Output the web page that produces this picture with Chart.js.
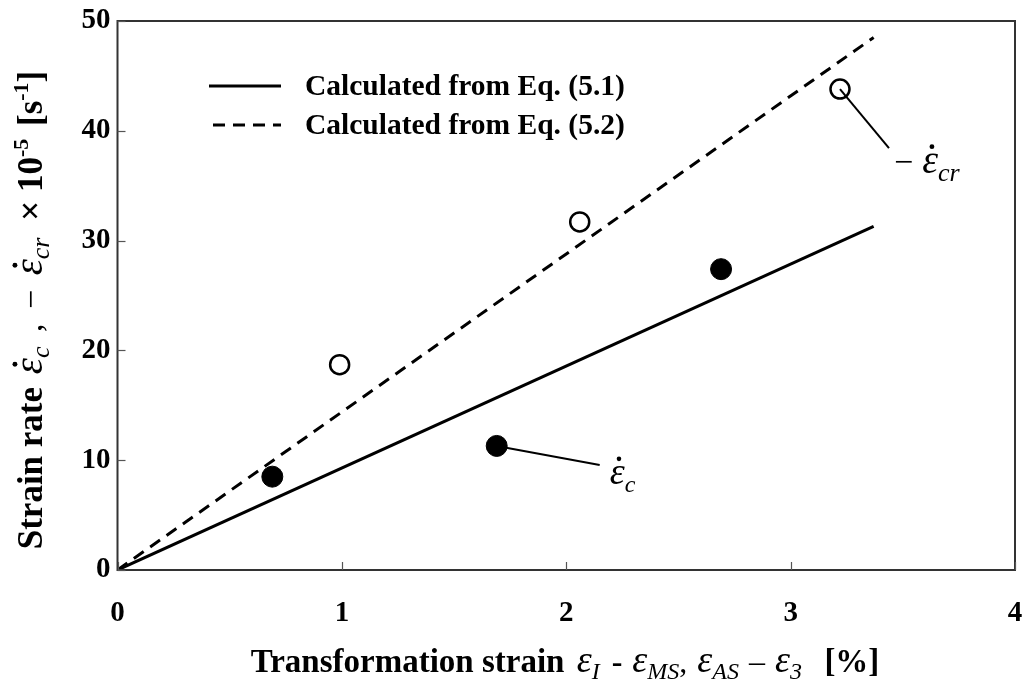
<!DOCTYPE html>
<html>
<head>
<meta charset="utf-8">
<script src="https://cdn.jsdelivr.net/npm/chart.js@4/dist/chart.umd.min.js"></script>
<style>
  html, body { margin: 0; padding: 0; background: #fff; }
  #wrap { width: 1027px; height: 681px; }
</style>
</head>
<body>
<div id="wrap"><canvas id="c" width="1027" height="681"></canvas></div>
<script>
// Measured strain rates (x 10^-5 s^-1) against transformation strain (%)
const strainCreep = [0.69, 1.69, 2.69];
const rateCreep = [8.5, 11.3, 27.4];
const strainRecovery = [0.99, 2.06, 3.22];
const rateRecovery = [18.7, 31.7, 43.8];

// Calculated lines through the origin
const eqStrain = [0, 3.37];
const eq51Rate = [0, 31.3];
const eq52Rate = [0, 48.5];

const xTicks = [0, 1, 2, 3, 4];
const yTicks = [0, 10, 20, 30, 40, 50];

const legendLabels = ['Calculated from Eq. (5.1)', 'Calculated from Eq. (5.2)'];

const SERIF = '"Liberation Serif", "Times New Roman", serif';

function pts(xs, ys) { return xs.map((x, i) => ({ x: x, y: ys[i] })); }

function fontOf(r) {
  return (r.italic ? 'italic ' : '') + (r.bold ? 'bold ' : '') + r.size + 'px ' + SERIF;
}

// Draw a run of mixed-style text pieces in sequence; r.dot puts a time-derivative dot over the glyph
function drawRuns(ctx, runs, x, y, align) {
  let total = 0;
  runs.forEach(r => {
    ctx.font = fontOf(r);
    r.tw = ctx.measureText(r.t).width;
    r.w = r.tw + (r.gap || 0);
    total += r.w;
  });
  let cx = align === 'center' ? x - total / 2 : x;
  ctx.textBaseline = 'alphabetic';
  ctx.textAlign = 'left';
  runs.forEach(r => {
    ctx.font = fontOf(r);
    const by = y + (r.dy || 0);
    ctx.fillText(r.t, cx, by);
    if (r.dot) {
      ctx.beginPath();
      ctx.arc(cx + r.tw * 0.62, by - r.size * 0.66, Math.max(1.6, r.size * 0.06), 0, Math.PI * 2);
      ctx.fill();
    }
    cx += r.w;
  });
}

const framePlugin = {
  id: 'frame',
  afterDraw(chart) {
    const ctx = chart.ctx;
    const a = chart.chartArea;
    const xs = chart.scales.x, ys = chart.scales.y;
    ctx.save();
    // plot frame
    ctx.strokeStyle = '#333';
    ctx.lineWidth = 2;
    ctx.strokeRect(a.left, a.top, a.right - a.left, a.bottom - a.top);
    // inward tick marks
    ctx.lineWidth = 1.2;
    ctx.strokeStyle = '#555';
    yTicks.forEach(v => {
      const py = Math.round(ys.getPixelForValue(v)) + 0.5;
      ctx.beginPath(); ctx.moveTo(a.left, py); ctx.lineTo(a.left + 8, py); ctx.stroke();
    });
    xTicks.forEach(v => {
      const px = Math.round(xs.getPixelForValue(v)) + 0.5;
      ctx.beginPath(); ctx.moveTo(px, a.bottom); ctx.lineTo(px, a.bottom - 8); ctx.stroke();
    });

    ctx.fillStyle = '#000';
    ctx.strokeStyle = '#000';

    // legend
    const lx0 = 209, lx1 = 281;
    const ly = [86, 125];
    ctx.lineWidth = 3;
    ctx.beginPath(); ctx.setLineDash([]); ctx.moveTo(lx0, ly[0]); ctx.lineTo(lx1, ly[0]); ctx.stroke();
    ctx.beginPath(); ctx.setLineDash([12, 8]); ctx.moveTo(lx0 + 4, ly[1]); ctx.lineTo(lx1, ly[1]); ctx.stroke();
    ctx.setLineDash([]);
    ctx.font = 'bold 29.5px ' + SERIF;
    ctx.textBaseline = 'middle';
    ctx.textAlign = 'left';
    legendLabels.forEach((t, i) => ctx.fillText(t, 305, ly[i] + 1));

    // leader lines to the data labels
    ctx.lineWidth = 2;
    const c0x = xs.getPixelForValue(strainCreep[1]), c0y = ys.getPixelForValue(rateCreep[1]);
    ctx.beginPath(); ctx.moveTo(c0x, c0y); ctx.lineTo(c0x + 103, c0y + 19); ctx.stroke();
    drawRuns(ctx, [
      { t: 'ε', size: 38, italic: true, dot: true },
      { t: 'c', size: 24, italic: true, dy: 8 }
    ], c0x + 113, c0y + 38, 'left');

    const r0x = xs.getPixelForValue(strainRecovery[2]), r0y = ys.getPixelForValue(rateRecovery[2]);
    ctx.beginPath(); ctx.moveTo(r0x, r0y); ctx.lineTo(r0x + 49, r0y + 59); ctx.stroke();
    drawRuns(ctx, [
      { t: '\u2212', size: 34, gap: 9 },
      { t: 'ε', size: 40, italic: true, dot: true },
      { t: 'cr', size: 26, italic: true, dy: 8 }
    ], r0x + 54, r0y + 84, 'left');

    // x axis title
    ctx.fillStyle = '#000';
    drawRuns(ctx, [
      { t: 'Transformation strain ', size: 33, bold: true, gap: 4 },
      { t: 'ε', size: 38, italic: true },
      { t: 'I', size: 24, italic: true, dy: 7, gap: 4 },
      { t: ' - ', size: 32, bold: true, gap: 2 },
      { t: 'ε', size: 38, italic: true },
      { t: 'MS', size: 24, italic: true, dy: 7 },
      { t: ', ', size: 32, gap: 2 },
      { t: 'ε', size: 38, italic: true },
      { t: 'AS', size: 24, italic: true, dy: 7, gap: 2 },
      { t: ' \u2013 ', size: 32, gap: 2 },
      { t: 'ε', size: 38, italic: true },
      { t: '3', size: 24, italic: true, dy: 7, gap: 6 },
      { t: '  [%]', size: 33, bold: true }
    ], 565, 672, 'center');

    // y axis title (rotated)
    ctx.save();
    ctx.translate(42, 310);
    ctx.rotate(-Math.PI / 2);
    drawRuns(ctx, [
      { t: 'Strain rate ', size: 35, bold: true, gap: 4 },
      { t: 'ε', size: 41, italic: true, dot: true },
      { t: 'c', size: 26, italic: true, dy: 7, gap: 6 },
      { t: ' , ', size: 34, gap: 6 },
      { t: '\u2212 ', size: 34, gap: 6 },
      { t: 'ε', size: 41, italic: true, dot: true },
      { t: 'cr', size: 26, italic: true, dy: 7, gap: 8 },
      { t: ' \u00d7 10', size: 35, bold: true },
      { t: '-5', size: 22, bold: true, dy: -14, gap: 4 },
      { t: ' [s', size: 35, bold: true },
      { t: '-1', size: 22, bold: true, dy: -14 },
      { t: ']', size: 35, bold: true }
    ], 0, 0, 'center');
    ctx.restore();

    ctx.restore();
  }
};

new Chart(document.getElementById('c'), {
  type: 'scatter',
  data: {
    datasets: [
      {
        label: legendLabels[0],
        data: pts(eqStrain, eq51Rate),
        showLine: true,
        borderColor: '#000',
        borderWidth: 3,
        pointRadius: 0,
        fill: false
      },
      {
        label: legendLabels[1],
        data: pts(eqStrain, eq52Rate),
        showLine: true,
        borderColor: '#000',
        borderWidth: 3,
        borderDash: [12, 8],
        pointRadius: 0,
        fill: false
      },
      {
        label: 'creep',
        data: pts(strainCreep, rateCreep),
        pointRadius: 10.5,
        pointBackgroundColor: '#000',
        pointBorderColor: '#000',
        pointBorderWidth: 1
      },
      {
        label: 'recovery',
        data: pts(strainRecovery, rateRecovery),
        pointRadius: 9.5,
        pointBackgroundColor: '#fff',
        pointBorderColor: '#000',
        pointBorderWidth: 2.5
      }
    ]
  },
  options: {
    responsive: false,
    animation: false,
    devicePixelRatio: 1,
    layout: { padding: { left: 0, top: 21, right: 12, bottom: 0 } },
    plugins: { legend: { display: false }, tooltip: { enabled: false } },
    scales: {
      x: {
        type: 'linear',
        min: 0, max: 4,
        afterBuildTicks(s) { s.ticks = xTicks.map(v => ({ value: v })); },
        afterFit(s) { s.height = 111; s.paddingLeft = 0; s.paddingRight = 0; },
        grid: { display: false, drawTicks: false },
        border: { display: false },
        ticks: {
          color: '#000',
          padding: 26,
          font: { family: SERIF, size: 29, weight: 'bold' }
        }
      },
      y: {
        type: 'linear',
        min: 0, max: 50,
        afterBuildTicks(s) { s.ticks = yTicks.map(v => ({ value: v })); },
        afterFit(s) { s.width = 117.5; s.paddingTop = 0; s.paddingBottom = 0; },
        grid: { display: false, drawTicks: false },
        border: { display: false },
        ticks: {
          color: '#000',
          padding: 7,
          font: { family: SERIF, size: 29, weight: 'bold' }
        }
      }
    }
  },
  plugins: [framePlugin]
});
</script>
</body>
</html>
